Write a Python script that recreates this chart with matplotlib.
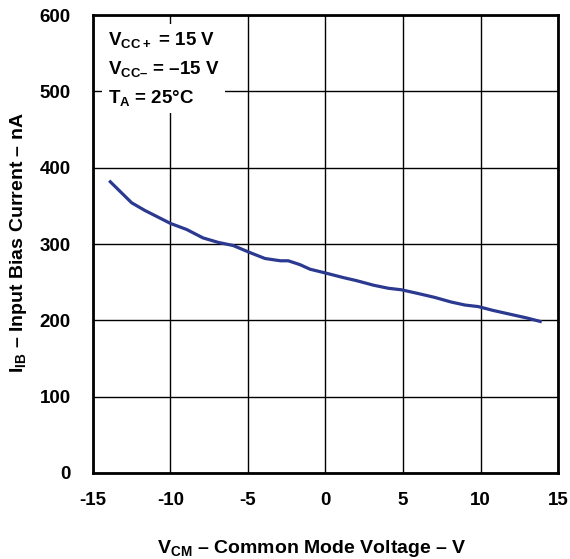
import matplotlib
matplotlib.use('Agg')
import matplotlib.pyplot as plt

plt.rcParams['font.family'] = ['Liberation Sans', 'DejaVu Sans']
plt.rcParams['font.weight'] = 'bold'
plt.rcParams['mathtext.fontset'] = 'custom'
plt.rcParams['mathtext.bf'] = 'Liberation Sans:bold'
plt.rcParams['mathtext.rm'] = 'Liberation Sans:bold'
plt.rcParams['mathtext.default'] = 'bf'
plt.rcParams['axes.unicode_minus'] = False

# Input bias current vs common mode voltage
vcm = [-13.95, -12.5, -11.65, -10.0, -8.95, -7.9, -6.9, -5.95, -4.9, -3.9,
       -2.9, -2.4, -1.65, -1.0, 0.0, 1.15, 2.0, 3.1, 4.05, 4.9,
       6.0, 7.05, 8.1, 9.0, 9.85, 10.8, 11.9, 13.0, 13.95]
iib = [383, 354, 344, 327, 319, 308, 302, 298, 289, 281,
       278, 278, 273, 267, 262, 256, 252, 246, 242, 240,
       235, 230, 224, 220, 218, 213, 208, 203, 198]

xticks = [-15, -10, -5, 0, 5, 10, 15]
yticks = [0, 100, 200, 300, 400, 500, 600]

fig = plt.figure(figsize=(5.70, 5.59), dpi=100)
ax = fig.add_axes([0.163, 0.154, 0.816, 0.819])

ax.plot(vcm, iib, color='#2b3990', linewidth=2.3, solid_capstyle='butt', zorder=3)

ax.set_xlim(-15, 15)
ax.set_ylim(0, 600)
ax.set_xticks(xticks)
ax.set_yticks(yticks)
ax.grid(True, color='black', linewidth=1.0)
ax.tick_params(length=0, labelsize=13.5)
ax.tick_params(axis='y', pad=16)
ax.tick_params(axis='x', pad=14)
for s in ax.spines.values():
    s.set_linewidth(2)

ax.set_xlabel('V$_{CM}$ – Common Mode Voltage – V', fontsize=14, fontweight='bold')
ax.set_ylabel('I$_{IB}$ – Input Bias Current – nA', fontsize=14, fontweight='bold')
ax.xaxis.set_label_coords(0.471, -0.143)
ax.yaxis.set_label_coords(-0.137, 0.504)

ax.text(0.032, 0.968, 'V$_{CC+}$ = 15 V\nV$_{CC–}$ = –15 V\nT$_{A}$ = 25°C',
        transform=ax.transAxes, fontsize=13.5, fontweight='bold',
        va='top', ha='left', linespacing=1.6, zorder=4,
        bbox=dict(facecolor='white', edgecolor='none', pad=4))

fig.savefig('out.png', dpi=100)
